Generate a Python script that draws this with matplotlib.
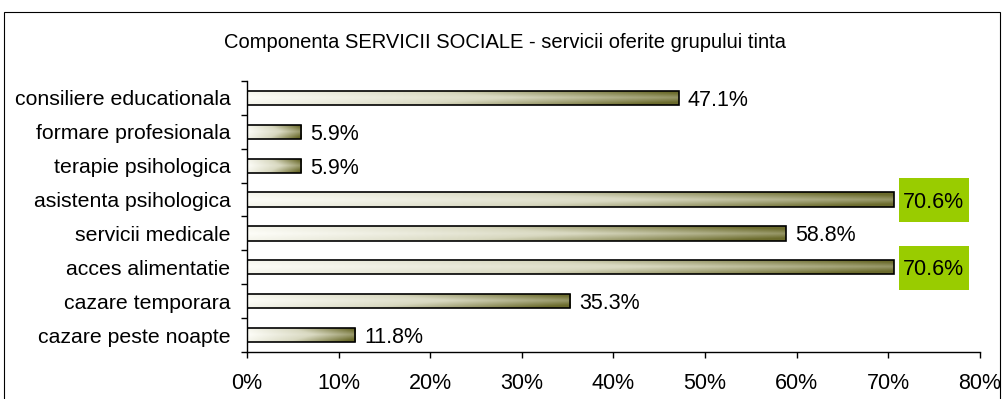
import numpy as np
import matplotlib.pyplot as plt
from matplotlib.patches import Rectangle
from matplotlib.colors import LinearSegmentedColormap

categories = ['consiliere educationala', 'formare profesionala', 'terapie psihologica',
              'asistenta psihologica', 'servicii medicale', 'acces alimentatie',
              'cazare temporara', 'cazare peste noapte']
values = [47.1, 5.9, 5.9, 70.6, 58.8, 70.6, 35.3, 11.8]
highlight = [False, False, False, True, False, True, False, False]
xticks = [0, 10, 20, 30, 40, 50, 60, 70, 80]

plt.rcParams['font.family'] = ['Liberation Sans', 'DejaVu Sans']

fig = plt.figure(figsize=(10.03, 3.99), dpi=100)
ax = fig.add_axes([0.2463, 0.1178, 0.7307, 0.6792])

# frame around the whole chart (bottom edge falls outside the image)
fig.patches.append(Rectangle((0.004, -0.2), 0.993, 1.17, transform=fig.transFigure,
                             fill=False, edgecolor='black', linewidth=0.8))
fig.text(0.503, 0.893, 'Componenta SERVICII SOCIALE - servicii oferite grupului tinta',
         ha='center', va='center', fontsize=14.5)

cmap = LinearSegmentedColormap.from_list('olive', ['#fdfdf8', '#d8d8c0', '#6b6b2c'])
nx, ny = 256, 32
tx = np.linspace(0, 1, nx)
ty = np.abs(np.linspace(-1, 1, ny))
grad = np.clip(tx[None, :] * (0.8 + 0.2 * ty[:, None]) + 0.12 * ty[:, None], 0, 1)

ypos = np.arange(len(categories))
bar_h = 0.42
bars = ax.barh(ypos, values, height=bar_h, color='none', edgecolor='black',
               linewidth=1.2, zorder=3)
for bar in bars:
    x0, y0 = bar.get_x(), bar.get_y()
    w, h = bar.get_width(), bar.get_height()
    im = ax.imshow(grad, cmap=cmap, aspect='auto', extent=(x0, x0 + w, y0 + h, y0),
                   zorder=2, interpolation='bilinear')
    im.set_clip_path(bar)

for y, v, hl in zip(ypos, values, highlight):
    if hl:
        ax.add_patch(Rectangle((v + 0.6, y - 0.63), 7.65, 1.3, facecolor='#99cc00',
                               edgecolor='none', clip_on=False, zorder=1))
    ax.text(v + 1.0, y, f'{v:.1f}%', va='center_baseline', ha='left', fontsize=15.5,
            zorder=4)

ax.set_xlim(0, 80)
ax.set_ylim(len(categories) - 0.5, -0.5)
ax.set_xticks(xticks)
ax.set_xticklabels([f'{t}%' for t in xticks], fontsize=15.5)
ax.set_yticks(ypos)
ax.set_yticklabels(categories, fontsize=15.3)
ax.set_yticks(np.arange(-0.5, len(categories), 1), minor=True)
ax.tick_params(axis='y', which='major', length=0, pad=12)
ax.tick_params(axis='y', which='minor', length=4, width=1, direction='out')
ax.tick_params(axis='x', which='major', length=4, width=1, pad=11)
for side in ['top', 'right']:
    ax.spines[side].set_visible(False)
ax.spines['left'].set_linewidth(1)
ax.spines['bottom'].set_linewidth(1)

fig.savefig('out.png', dpi=100)
